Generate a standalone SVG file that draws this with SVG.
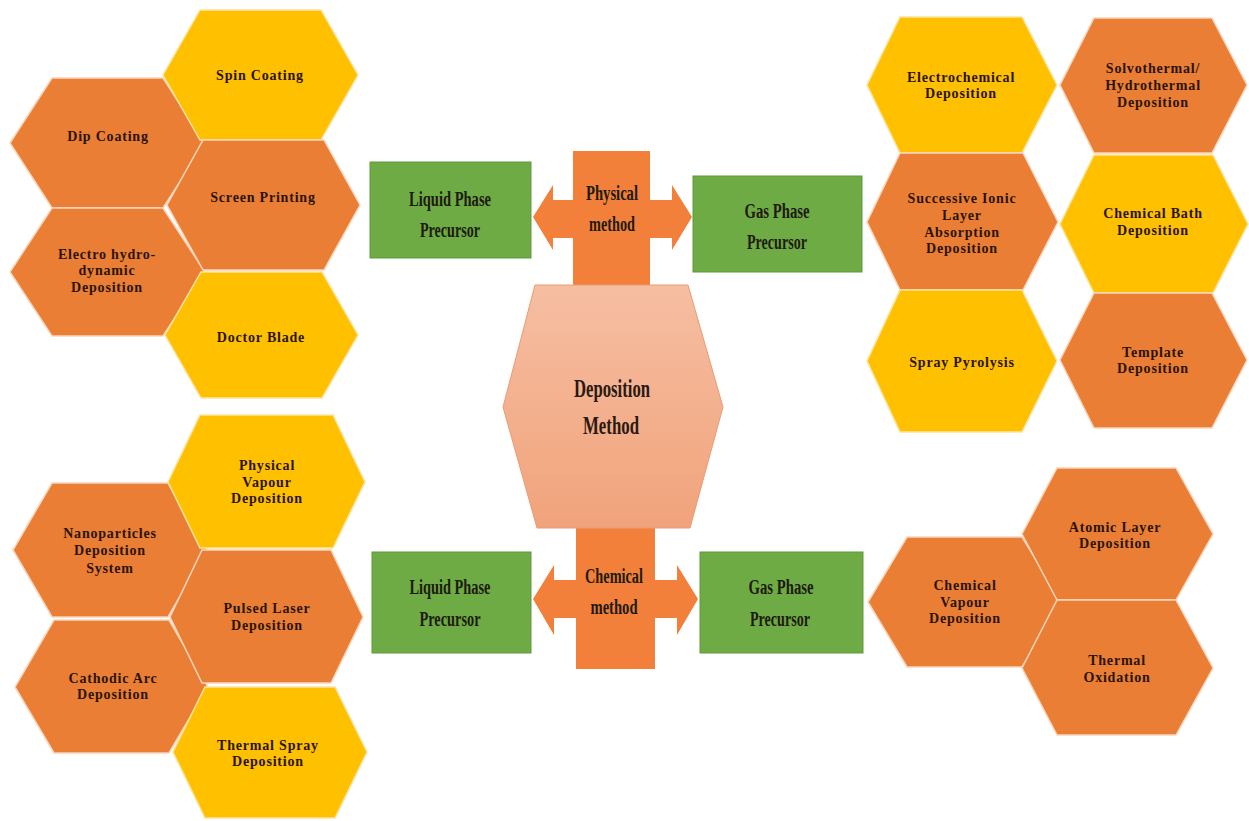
<svg xmlns="http://www.w3.org/2000/svg" width="1249" height="821" viewBox="0 0 1249 821">
  <defs>
    <linearGradient id="coreFill" x1="0" y1="0" x2="0" y2="1">
      <stop offset="0" stop-color="#F6BEA2"/>
      <stop offset="1" stop-color="#F1A37B"/>
    </linearGradient>
    <style>
      .hex-o { fill: #EB7E35; stroke: #F7D6BC; stroke-width: 1.5; }
      .hex-y { fill: #FFC000; stroke: #FBE3A0; stroke-width: 1.5; }
      .box { fill: #6EAB45; stroke: #5E9A3A; stroke-width: 1; }
      .cross { fill: #F2803A; }
      .core { fill: url(#coreFill); stroke: #E99B72; stroke-width: 1; }
      .hx { font-family: "Liberation Serif", "Times New Roman", serif; font-weight: bold; font-size: 14px; letter-spacing: 0.8px; fill: #2A1409; text-anchor: middle; dominant-baseline: central; }
      .cn { font-family: "Liberation Serif", "Times New Roman", serif; font-weight: bold; font-size: 20px; fill: #1E1A0E; text-anchor: middle; dominant-baseline: central; }
      .big { font-size: 26px; fill: #2A1A12; }
    </style>
  </defs>

  <rect width="1249" height="821" fill="#FFFFFF"/>

  <!-- connectors: the two four-way method arrows -->
  <g id="connectors">
    <polygon id="physical-arrow" class="cross" points="573,151 650,151 650,200 672,200 672,185 692,217 672,250 672,238 650,238 650,290 573,290 573,238 553,238 553,250 533,217 553,185 553,200 573,200"/>
    <polygon id="chemical-arrow" class="cross" points="576,524 655,524 655,580 677,580 677,565 698,599 677,635 677,618 655,618 655,669 576,669 576,618 554,618 554,635 533,599 554,565 554,580 576,580"/>
    <text class="cn" x="612" y="193" textLength="52" lengthAdjust="spacingAndGlyphs">Physical</text>
    <text class="cn" x="612" y="224" textLength="46" lengthAdjust="spacingAndGlyphs">method</text>
    <text class="cn" x="614" y="576" textLength="58" lengthAdjust="spacingAndGlyphs">Chemical</text>
    <text class="cn" x="614" y="607" textLength="47" lengthAdjust="spacingAndGlyphs">method</text>
  </g>

  <!-- central node -->
  <g id="deposition-method">
    <polygon class="core" points="535,285 688,285 723,407 690,528 537,528 503,407"/>
    <text class="cn big" x="612" y="388" textLength="76" lengthAdjust="spacingAndGlyphs">Deposition</text>
    <text class="cn big" x="611" y="425" textLength="56" lengthAdjust="spacingAndGlyphs">Method</text>
  </g>

  <!-- precursor boxes -->
  <g id="physical-liquid">
    <rect class="box" x="370" y="162" width="161" height="96"/>
    <text class="cn" x="450" y="199" textLength="82" lengthAdjust="spacingAndGlyphs">Liquid Phase</text>
    <text class="cn" x="450" y="230" textLength="60" lengthAdjust="spacingAndGlyphs">Precursor</text>
  </g>
  <g id="physical-gas">
    <rect class="box" x="693" y="176" width="169" height="96"/>
    <text class="cn" x="777" y="211" textLength="65" lengthAdjust="spacingAndGlyphs">Gas Phase</text>
    <text class="cn" x="777" y="242" textLength="60" lengthAdjust="spacingAndGlyphs">Precursor</text>
  </g>
  <g id="chemical-liquid">
    <rect class="box" x="372" y="552" width="159" height="101"/>
    <text class="cn" x="450" y="587" textLength="81" lengthAdjust="spacingAndGlyphs">Liquid Phase</text>
    <text class="cn" x="450" y="619" textLength="61" lengthAdjust="spacingAndGlyphs">Precursor</text>
  </g>
  <g id="chemical-gas">
    <rect class="box" x="700" y="552" width="163" height="101"/>
    <text class="cn" x="781" y="587" textLength="65" lengthAdjust="spacingAndGlyphs">Gas Phase</text>
    <text class="cn" x="780" y="619" textLength="60" lengthAdjust="spacingAndGlyphs">Precursor</text>
  </g>

  <!-- physical / liquid phase techniques -->
  <g id="dip-coating">
    <polygon class="hex-o" points="52,78 163,78 205,143 163,208 52,208 10,143"/>
    <text class="hx" x="108" y="136">Dip Coating</text>
  </g>
  <g id="electro-hydrodynamic">
    <polygon class="hex-o" points="52,208 163,208 205,272 163,336 52,336 10,272"/>
    <text class="hx" x="107" y="254">Electro hydro-</text>
    <text class="hx" x="107" y="270">dynamic</text>
    <text class="hx" x="107" y="287">Deposition</text>
  </g>
  <g id="spin-coating">
    <polygon class="hex-y" points="200,10 321,10 358,75 321,140 200,140 163,75"/>
    <text class="hx" x="260" y="75">Spin Coating</text>
  </g>
  <g id="screen-printing">
    <polygon class="hex-o" points="203,140 324,140 360,205 324,270 203,270 167,205"/>
    <text class="hx" x="263" y="197">Screen Printing</text>
  </g>
  <g id="doctor-blade">
    <polygon class="hex-y" points="201,272 322,272 358,335 322,398 201,398 165,335"/>
    <text class="hx" x="261" y="337">Doctor Blade</text>
  </g>

  <!-- physical / gas phase techniques -->
  <g id="nanoparticles-deposition">
    <polygon class="hex-o" points="52,483 168,483 207,550 168,617 52,617 13,550"/>
    <text class="hx" x="110" y="533">Nanoparticles</text>
    <text class="hx" x="110" y="550">Deposition</text>
    <text class="hx" x="110" y="568">System</text>
  </g>
  <g id="cathodic-arc">
    <polygon class="hex-o" points="54,620 169,620 208,687 169,753 54,753 15,687"/>
    <text class="hx" x="113" y="678">Cathodic Arc</text>
    <text class="hx" x="113" y="694">Deposition</text>
  </g>
  <g id="physical-vapour">
    <polygon class="hex-y" points="200,415 333,415 365,482 333,548 200,548 168,482"/>
    <text class="hx" x="267" y="465">Physical</text>
    <text class="hx" x="267" y="482">Vapour</text>
    <text class="hx" x="267" y="498">Deposition</text>
  </g>
  <g id="pulsed-laser">
    <polygon class="hex-o" points="202,550 331,550 363,617 331,683 202,683 170,617"/>
    <text class="hx" x="267" y="608">Pulsed Laser</text>
    <text class="hx" x="267" y="625">Deposition</text>
  </g>
  <g id="thermal-spray">
    <polygon class="hex-y" points="205,687 335,687 367,752 335,818 205,818 173,752"/>
    <text class="hx" x="268" y="745">Thermal Spray</text>
    <text class="hx" x="268" y="761">Deposition</text>
  </g>

  <!-- chemical / liquid phase techniques -->
  <g id="electrochemical">
    <polygon class="hex-y" points="900,17 1022,17 1057,85 1022,153 900,153 867,85"/>
    <text class="hx" x="961" y="77">Electrochemical</text>
    <text class="hx" x="961" y="93">Deposition</text>
  </g>
  <g id="solvothermal">
    <polygon class="hex-o" points="1094,18 1212,18 1247,85 1212,153 1094,153 1060,85"/>
    <text class="hx" x="1153" y="68">Solvothermal/</text>
    <text class="hx" x="1153" y="85">Hydrothermal</text>
    <text class="hx" x="1153" y="102">Deposition</text>
  </g>
  <g id="silar">
    <polygon class="hex-o" points="900,153 1023,153 1058,222 1023,290 900,290 867,222"/>
    <text class="hx" x="962" y="198">Successive Ionic</text>
    <text class="hx" x="962" y="215">Layer</text>
    <text class="hx" x="962" y="232">Absorption</text>
    <text class="hx" x="962" y="248">Deposition</text>
  </g>
  <g id="chemical-bath">
    <polygon class="hex-y" points="1094,155 1213,155 1248,224 1213,293 1094,293 1060,224"/>
    <text class="hx" x="1153" y="213">Chemical Bath</text>
    <text class="hx" x="1153" y="230">Deposition</text>
  </g>
  <g id="spray-pyrolysis">
    <polygon class="hex-y" points="900,290 1022,290 1057,361 1022,432 900,432 867,361"/>
    <text class="hx" x="962" y="362">Spray Pyrolysis</text>
  </g>
  <g id="template-deposition">
    <polygon class="hex-o" points="1094,293 1212,293 1247,360 1212,428 1094,428 1060,360"/>
    <text class="hx" x="1153" y="352">Template</text>
    <text class="hx" x="1153" y="368">Deposition</text>
  </g>

  <!-- chemical / gas phase techniques -->
  <g id="chemical-vapour">
    <polygon class="hex-o" points="907,537 1022,537 1062,602 1022,667 907,667 868,602"/>
    <text class="hx" x="965" y="585">Chemical</text>
    <text class="hx" x="965" y="602">Vapour</text>
    <text class="hx" x="965" y="618">Deposition</text>
  </g>
  <g id="atomic-layer">
    <polygon class="hex-o" points="1057,468 1176,468 1213,534 1176,600 1057,600 1022,534"/>
    <text class="hx" x="1115" y="527">Atomic Layer</text>
    <text class="hx" x="1115" y="543">Deposition</text>
  </g>
  <g id="thermal-oxidation">
    <polygon class="hex-o" points="1057,600 1176,600 1213,668 1176,735 1057,735 1022,668"/>
    <text class="hx" x="1117" y="660">Thermal</text>
    <text class="hx" x="1117" y="677">Oxidation</text>
  </g>
</svg>
